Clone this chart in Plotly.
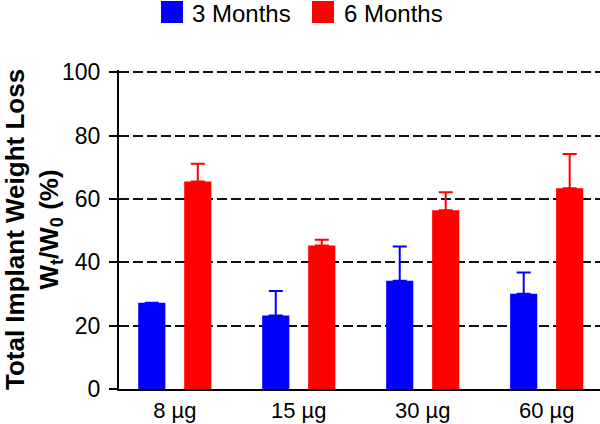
import plotly.graph_objects as go

categories = ["8 µg", "15 µg", "30 µg", "60 µg"]
months3 = [27.2, 23.2, 34.2, 30.1]
months3_err = [None, 7.7, 10.8, 6.7]
months6 = [65.5, 45.3, 56.4, 63.4]
months6_err = [5.6, 1.8, 5.7, 10.8]
series_names = ["3 Months", "6 Months"]
colors = ["#0000FF", "#FF0000"]
y_ticks = [0, 20, 40, 60, 80, 100]

W, H = 600, 424
YMAX = 100.7
L, R, B = 119, 0, 35
T = round(H - B - 317 * YMAX / 100)
pw = W - L - R
ph = H - T - B

def px_x(p):
    return (p - L) / pw

def px_y(p):
    return (H - B - p) / ph

fig = go.Figure()
for name, vals, errs, col in [(series_names[0], months3, months3_err, colors[0]),
                              (series_names[1], months6, months6_err, colors[1])]:
    fig.add_trace(go.Bar(
        x=categories, y=vals, name=name, marker=dict(color=col, line=dict(width=0)),
        error_y=dict(type="data", array=errs, arrayminus=[0] * len(errs), symmetric=False,
                     color=col, thickness=2, width=7),
        showlegend=False,
    ))

font = "Arial, 'Liberation Sans', sans-serif"

# manual legend (large square swatches)
legend_items = [(161, 183, 191), (312, 334, 343)]
for (x0, x1, tx), name, col in zip(legend_items, series_names, colors):
    fig.add_shape(type="rect", xref="paper", yref="paper",
                  x0=px_x(x0), x1=px_x(x1), y0=px_y(23), y1=px_y(1),
                  fillcolor=col, line=dict(width=0))
    fig.add_annotation(xref="paper", yref="paper", x=px_x(tx), y=px_y(14),
                       xanchor="left", yanchor="middle", text=name, showarrow=False,
                       borderpad=0,
                       font=dict(size=24, color="black", family=font))

fig.update_layout(
    width=W, height=H,
    margin=dict(l=L, r=R, t=T, b=B, pad=0, autoexpand=False),
    paper_bgcolor="white", plot_bgcolor="white",
    barmode="group", bargap=0.258, bargroupgap=0.41,
    font=dict(family=font, color="black", size=23),
    showlegend=False,
)
fig.update_xaxes(
    range=[-0.45, 3.43], showline=True, linecolor="black", linewidth=2,
    ticks="", showgrid=False, tickfont=dict(size=22), ticklabelstandoff=1,
    automargin=False,
)
fig.update_yaxes(
    range=[0, YMAX], tickvals=y_ticks,
    showline=True, linecolor="black", linewidth=2,
    ticks="outside", ticklen=8, tickwidth=2, tickcolor="black",
    showgrid=True, gridcolor="#111111", gridwidth=2, griddash="10px,4px",
    zeroline=False, tickfont=dict(size=23), ticklabelstandoff=4,
    title=dict(text="<b>Total Implant Weight Loss<br>W<sub>t</sub>/W<sub>0</sub> (%)</b>",
               font=dict(size=26), standoff=22),
    automargin=False,
)

fig.write_html("out.html", config={"displayModeBar": False},
               post_script="document.body.style.margin='0px';")
